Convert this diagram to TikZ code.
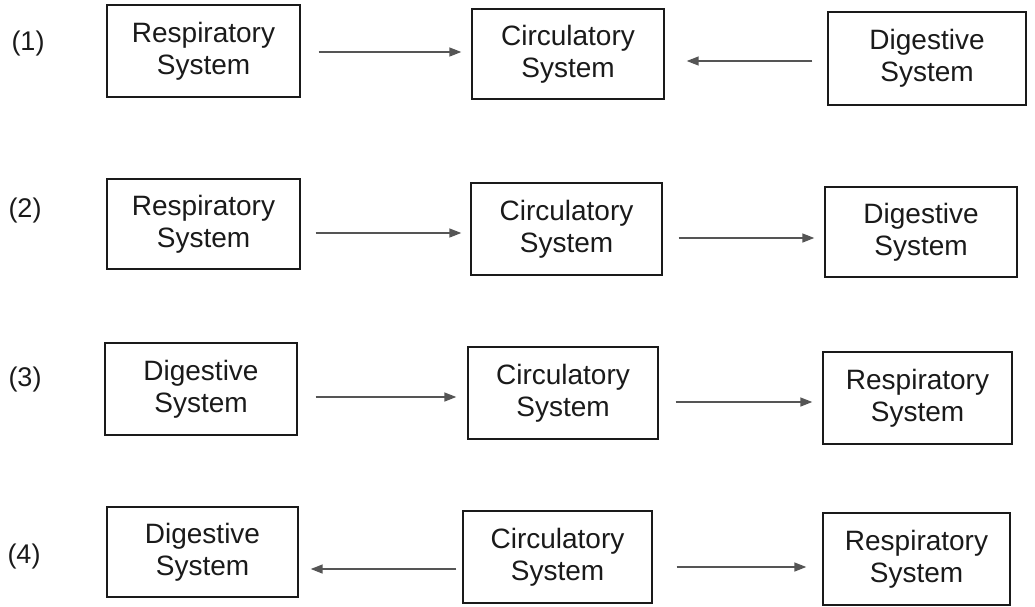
\documentclass[tikz,border=0pt]{standalone}
\usepackage{fontspec}
\setmainfont{Liberation Sans}
\usetikzlibrary{arrows.meta,calc}
\definecolor{ink}{HTML}{1A1A1A}
\definecolor{arrowgray}{HTML}{555555}
\tikzset{
  sysbox/.style={draw=ink, line width=1.4pt, align=center, inner sep=0pt,
    text=ink, font=\fontsize{28}{32}\selectfont},
  rowlabel/.style={text=ink, inner sep=0pt, font=\fontsize{27}{32}\selectfont},
  conn/.style={draw=arrowgray, line width=1.5pt,
    -{Triangle[length=12pt,width=9pt]}}
}
\begin{document}
\begin{tikzpicture}[x=1pt,y=-1pt]
\useasboundingbox (0,0) rectangle (1035,606);

% Row 1
\node[rowlabel] (L1) at (28,44) {(1)};
\node[sysbox, minimum width=193pt, minimum height=92pt] (A1) at (203.5,51) {Respiratory\\System};
\node[sysbox, minimum width=192pt, minimum height=90pt] (C1) at (568,54) {Circulatory\\System};
\node[sysbox, minimum width=198pt, minimum height=93pt] (D1) at (927,58.5) {Digestive\\System};
\draw[conn] ($(A1.east)+(18,1)$) -- ($(C1.west)+(-10,-2)$);
\draw[conn] ($(D1.west)+(-15,2.5)$) -- ($(C1.east)+(22,7)$);

% Row 2
\node[rowlabel] (L2) at (25,211) {(2)};
\node[sysbox, minimum width=193pt, minimum height=90pt] (R2) at (203.5,224) {Respiratory\\System};
\node[sysbox, minimum width=191pt, minimum height=92pt] (C2) at (566.5,229) {Circulatory\\System};
\node[sysbox, minimum width=192pt, minimum height=90pt] (D2) at (921,232) {Digestive\\System};
\draw[conn] ($(R2.east)+(15,9)$) -- ($(C2.west)+(-9,4)$);
\draw[conn] ($(C2.east)+(16,9)$) -- ($(D2.west)+(-10,6)$);

% Row 3
\node[rowlabel] (L3) at (25,380) {(3)};
\node[sysbox, minimum width=192pt, minimum height=92pt] (D3) at (201,389) {Digestive\\System};
\node[sysbox, minimum width=190pt, minimum height=92pt] (C3) at (563,393) {Circulatory\\System};
\node[sysbox, minimum width=189pt, minimum height=92pt] (R3) at (917.5,398) {Respiratory\\System};
\draw[conn] ($(D3.east)+(18,8)$) -- ($(C3.west)+(-11,4)$);
\draw[conn] ($(C3.east)+(17,9)$) -- ($(R3.west)+(-10,4)$);

% Row 4
\node[rowlabel] (L4) at (24,556) {(4)};
\node[sysbox, minimum width=191pt, minimum height=90pt] (D4) at (202.5,552) {Digestive\\System};
\node[sysbox, minimum width=189pt, minimum height=92pt] (C4) at (557.5,557) {Circulatory\\System};
\node[sysbox, minimum width=187pt, minimum height=92pt] (R4) at (916.5,559) {Respiratory\\System};
\draw[conn] ($(C4.west)+(-6,12)$) -- ($(D4.east)+(12,17)$);
\draw[conn] ($(C4.east)+(24,10)$) -- ($(R4.west)+(-16,8)$);
\end{tikzpicture}
\end{document}
